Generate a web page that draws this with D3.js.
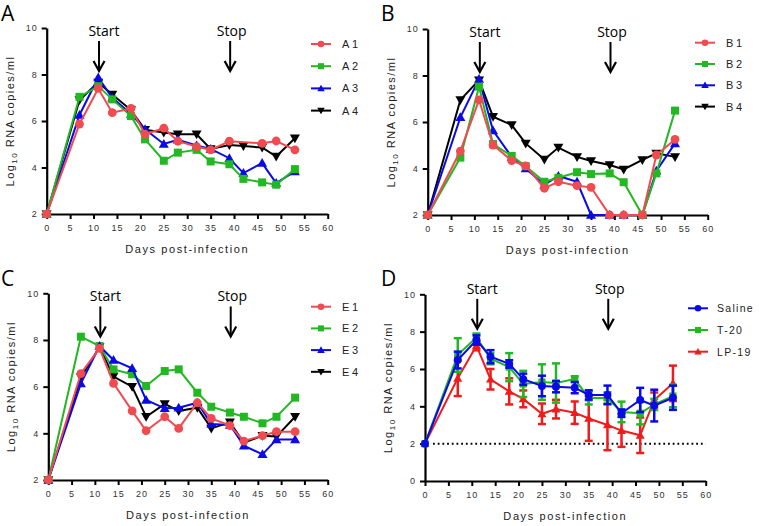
<!DOCTYPE html>
<html><head><meta charset="utf-8">
<script src="https://cdn.jsdelivr.net/npm/d3@7"></script>
<style>
body{margin:0;background:#fff;}
svg{display:block;font-family:"Liberation Sans",Arial,sans-serif;}
</style></head>
<body><svg id="c" width="760" height="526"></svg>
<script>
// ---------- DATA ----------
const days = [0,7,11,14,18,21,25,28,32,35,39,42,46,49,53];
const xTicks = [0,5,10,15,20,25,30,35,40,45,50,55,60];

const A1 = [2,5.87,7.4,6.36,6.54,5.43,5.69,5.13,4.9,4.76,5.13,null,5.04,5.14,4.76];
const A2 = [2,7.04,7.5,6.93,6.21,5.21,4.29,4.64,4.76,4.26,4.14,3.51,3.36,3.26,3.93];
const A3 = [2,6.26,7.87,7.0,6.3,5.64,5.01,5.19,4.95,4.8,4.4,3.76,4.19,3.33,3.83];
const A4 = [2,6.9,7.66,7.14,6.47,5.62,5.51,5.43,5.43,4.8,4.97,4.92,4.86,4.47,5.26];

const B1 = [2,4.75,6.95,5.01,4.34,4.11,3.15,3.43,3.26,3.19,2,2,2,4.58,5.25];
const B2 = [2,4.47,7.52,5.05,4.54,4.1,3.43,3.6,3.84,3.76,3.79,3.41,2,3.79,6.49];
const B3 = [2,6.2,7.85,5.63,4.5,4.0,3.3,3.68,3.43,2,2,2,2,3.9,5.08];
const B4 = [2,6.95,7.8,6.23,5.87,5.08,4.39,4.9,4.5,4.32,4.15,3.96,4.37,4.65,4.5];

const E1 = [2,6.56,7.64,6.14,4.96,4.11,4.71,4.21,5.31,4.64,4.33,3.67,3.9,4.07,4.07];
const E2 = [2,8.14,7.74,6.74,6.53,6.03,6.67,6.74,5.74,5.14,4.89,4.71,4.43,4.71,5.53];
const E3 = [2,6.14,7.74,7.14,6.79,5.43,5.07,5.1,5.31,4.4,4.36,3.47,3.1,3.74,3.74];
const E4 = [2,6.4,7.7,6.43,6.0,4.71,5.26,4.96,5.1,4.21,4.47,3.6,3.9,3.86,4.71];

const salineMean = [2,6.48,7.55,6.66,6.27,5.45,5.09,5.05,5.0,4.61,4.61,3.63,4.34,4.04,4.46];
const salineErr  = [0,0.45,0.25,0.35,0.2,0.3,0.55,0.3,0.3,0.25,0.5,0.2,0.65,0.85,0.65];
const t20Mean    = [2,6.75,7.7,6.55,6.1,5.2,5.3,5.25,5.46,4.45,4.45,3.7,3.63,4.1,4.55];
const t20Err     = [0,0.9,0.2,0.3,0.75,0.7,0.95,1.05,0.15,0.35,0.3,0.55,0.6,0.3,0.6];
const lp19Mean   = [2,5.5,7.25,5.45,4.8,4.4,3.6,3.85,3.66,3.35,3.0,2.7,2.45,4.34,5.23];
const lp19Err    = [0,0.95,0.25,0.55,0.7,0.45,0.55,0.5,0.6,1.2,1.35,0.87,0.95,0.4,0.95];

const startDay = 11, stopDay = 39, detectionLimit = 2;

// ---------- STYLE ----------
const RED = "#f04b50", GREEN = "#22b822", BLUE = "#0a0ae8", BLACK = "#000";
const RED_D = "#ee1c1c";

const svg = d3.select("#c");

const panels = [
  {letter:"A", lx:0, ly:21, x0:46.7, x1:327.7, yTop:28, yBot:214, yMin:2, yTicks:[2,4,6,8,10],
   leg:{x:311, y:44, dy:22.2, ls:2.6},
   series:[{name:"A1",v:A1,c:RED,m:"circle"},{name:"A2",v:A2,c:GREEN,m:"square"},
           {name:"A3",v:A3,c:BLUE,m:"up"},{name:"A4",v:A4,c:BLACK,m:"down"}],
   drawOrder:[3,2,1,0]},
  {letter:"B", lx:380, ly:21, x0:427.7, x1:707.7, yTop:29, yBot:215, yMin:2, yTicks:[2,4,6,8,10],
   leg:{x:695, y:42.7, dy:21.3, ls:2.6},
   series:[{name:"B1",v:B1,c:RED,m:"circle"},{name:"B2",v:B2,c:GREEN,m:"square"},
           {name:"B3",v:B3,c:BLUE,m:"up"},{name:"B4",v:B4,c:BLACK,m:"down"}],
   drawOrder:[3,2,1,0]},
  {letter:"C", lx:0, ly:286, x0:48.3, x1:327.7, yTop:293.3, yBot:480, yMin:2, yTicks:[2,4,6,8,10],
   leg:{x:311, y:306.7, dy:21.7, ls:2.6},
   series:[{name:"E1",v:E1,c:RED,m:"circle"},{name:"E2",v:E2,c:GREEN,m:"square"},
           {name:"E3",v:E3,c:BLUE,m:"up"},{name:"E4",v:E4,c:BLACK,m:"down"}],
   drawOrder:[3,1,2,0]},
  {letter:"D", lx:380, ly:286, x0:425, x1:705.7, yTop:294.3, yBot:481, yMin:0, yTicks:[0,2,4,6,8,10],
   leg:{x:688, y:308.3, dy:21.7, ls:1.3, fs:10.5}, dotted:true,
   series:[{name:"Saline",v:salineMean,e:salineErr,c:BLUE,m:"circle"},
           {name:"T-20",v:t20Mean,e:t20Err,c:GREEN,m:"square"},
           {name:"LP-19",v:lp19Mean,e:lp19Err,c:RED_D,m:"up"}],
   drawOrder:[2,1,0]}
];

function marker(g, type, cx, cy, color, s) {
  if (type === "circle") {
    g.append("circle").attr("cx",cx).attr("cy",cy).attr("r",4.4*s).attr("fill",color);
  } else if (type === "square") {
    const h = 4*s;
    g.append("rect").attr("x",cx-h).attr("y",cy-h).attr("width",2*h).attr("height",2*h).attr("fill",color);
  } else if (type === "up") {
    const h = 5*s;
    g.append("path").attr("d",`M${cx},${cy-h}L${cx+h},${cy+h*0.75}L${cx-h},${cy+h*0.75}Z`).attr("fill",color);
  } else {
    const h = 5*s;
    g.append("path").attr("d",`M${cx},${cy+h}L${cx+h},${cy-h*0.75}L${cx-h},${cy-h*0.75}Z`).attr("fill",color);
  }
}

panels.forEach(p => {
  const g = svg.append("g");
  const x = d3.scaleLinear().domain([0,60]).range([p.x0,p.x1]);
  const y = d3.scaleLinear().domain([p.yMin,10]).range([p.yBot,p.yTop]);

  // panel letter
  g.append("text").attr("x",p.lx+1).attr("y",p.ly).text(p.letter)
    .attr("font-family","'Open Sans',Arial,sans-serif").attr("font-size",21).attr("fill","#000");

  // axes
  const ax = g.append("g").attr("transform",`translate(0,${p.yBot})`)
    .call(d3.axisBottom(x).tickValues(xTicks).tickSize(5).tickSizeOuter(0).tickPadding(6));
  const ay = g.append("g").attr("transform",`translate(${p.x0},0)`)
    .call(d3.axisLeft(y).tickValues(p.yTicks).tickSize(5).tickSizeOuter(0).tickPadding(4));
  [ax,ay].forEach(a => {
    a.select(".domain").attr("stroke","#000").attr("stroke-width",2.2);
    a.selectAll(".tick line").attr("stroke","#000").attr("stroke-width",2);
    a.selectAll(".tick text").attr("font-size",9).attr("fill","#333")
      .attr("font-family","'Liberation Sans',Arial,sans-serif").style("letter-spacing","1px");
  });

  // axis titles
  g.append("text").attr("x",(p.x0+p.x1)/2).attr("y",p.yBot+39).attr("text-anchor","middle")
    .attr("font-size",11).attr("fill","#222").style("letter-spacing","1.6px").text("Days post-infection");
  const yt = g.append("text").attr("transform",`translate(${p.x0-33},${(p.yTop+p.yBot)/2}) rotate(-90)`)
    .attr("text-anchor","middle").attr("font-size",11).attr("fill","#222").style("letter-spacing","1.5px");
  yt.append("tspan").text("Log");
  yt.append("tspan").attr("font-size",8).attr("dy",3).text("10");
  yt.append("tspan").attr("dy",-3).text(" RNA copies/ml");

  // detection limit
  if (p.dotted) {
    g.append("line").attr("x1",x(0)+8).attr("x2",x(60)).attr("y1",y(detectionLimit)).attr("y2",y(detectionLimit))
      .attr("stroke","#000").attr("stroke-width",2).attr("stroke-dasharray","1.8,2.9");
  }

  // start / stop
  [[startDay,"Start",5],[stopDay,"Stop",1.5]].forEach(([d,label,off]) => {
    const tip = y(8.15), top = tip-30, ax0 = x(d)+0.8;
    g.append("text").attr("x",ax0+off).attr("y",top-5).attr("text-anchor","middle")
      .attr("font-family","'Open Sans',sans-serif").attr("font-size",14).attr("fill","#000").text(label);
    g.append("line").attr("x1",ax0).attr("x2",ax0).attr("y1",top).attr("y2",tip-1)
      .attr("stroke","#000").attr("stroke-width",2);
    g.append("path").attr("d",`M${ax0-5.5},${tip-10}L${ax0},${tip}L${ax0+5.5},${tip-10}`)
      .attr("fill","none").attr("stroke","#000").attr("stroke-width",2.2);
  });

  // series
  const line = d3.line().x(d => x(d.d)).y(d => y(d.v));
  p.drawOrder.forEach(i => {
    const s = p.series[i];
    const pts = days.map((d,k) => ({d, v:s.v[k], e:s.e ? s.e[k] : 0})).filter(q => q.v !== null);
    const sg = g.append("g");
    if (s.e) {
      pts.filter(q => q.e > 0).forEach(q => {
        const cx = x(q.d);
        sg.append("line").attr("x1",cx).attr("x2",cx).attr("y1",y(q.v+q.e)).attr("y2",y(q.v-q.e))
          .attr("stroke",s.c).attr("stroke-width",2.5);
        [q.v+q.e,q.v-q.e].forEach(vv => sg.append("line").attr("x1",cx-4).attr("x2",cx+4)
          .attr("y1",y(vv)).attr("y2",y(vv)).attr("stroke",s.c).attr("stroke-width",2.5));
      });
    }
    sg.append("path").attr("d",line(pts)).attr("fill","none").attr("stroke",s.c).attr("stroke-width",2);
    pts.forEach(q => marker(sg, s.m, x(q.d), y(q.v), s.c, s.e ? 0.9 : 1));
  });

  // legend
  p.series.forEach((s,i) => {
    const ly = p.leg.y + i*p.leg.dy;
    const lg = g.append("g");
    lg.append("line").attr("x1",p.leg.x).attr("x2",p.leg.x+20).attr("y1",ly).attr("y2",ly)
      .attr("stroke",s.c).attr("stroke-width",2);
    marker(lg, s.m, p.leg.x+10, ly, s.c, 0.75);
    lg.append("text").attr("x",p.leg.x+(p.leg.fs ? 29 : 31)).attr("y",ly+4).attr("font-size",p.leg.fs || 11).attr("fill","#222")
      .style("letter-spacing", p.leg.ls + "px").text(s.name);
  });
});
</script></body></html>
